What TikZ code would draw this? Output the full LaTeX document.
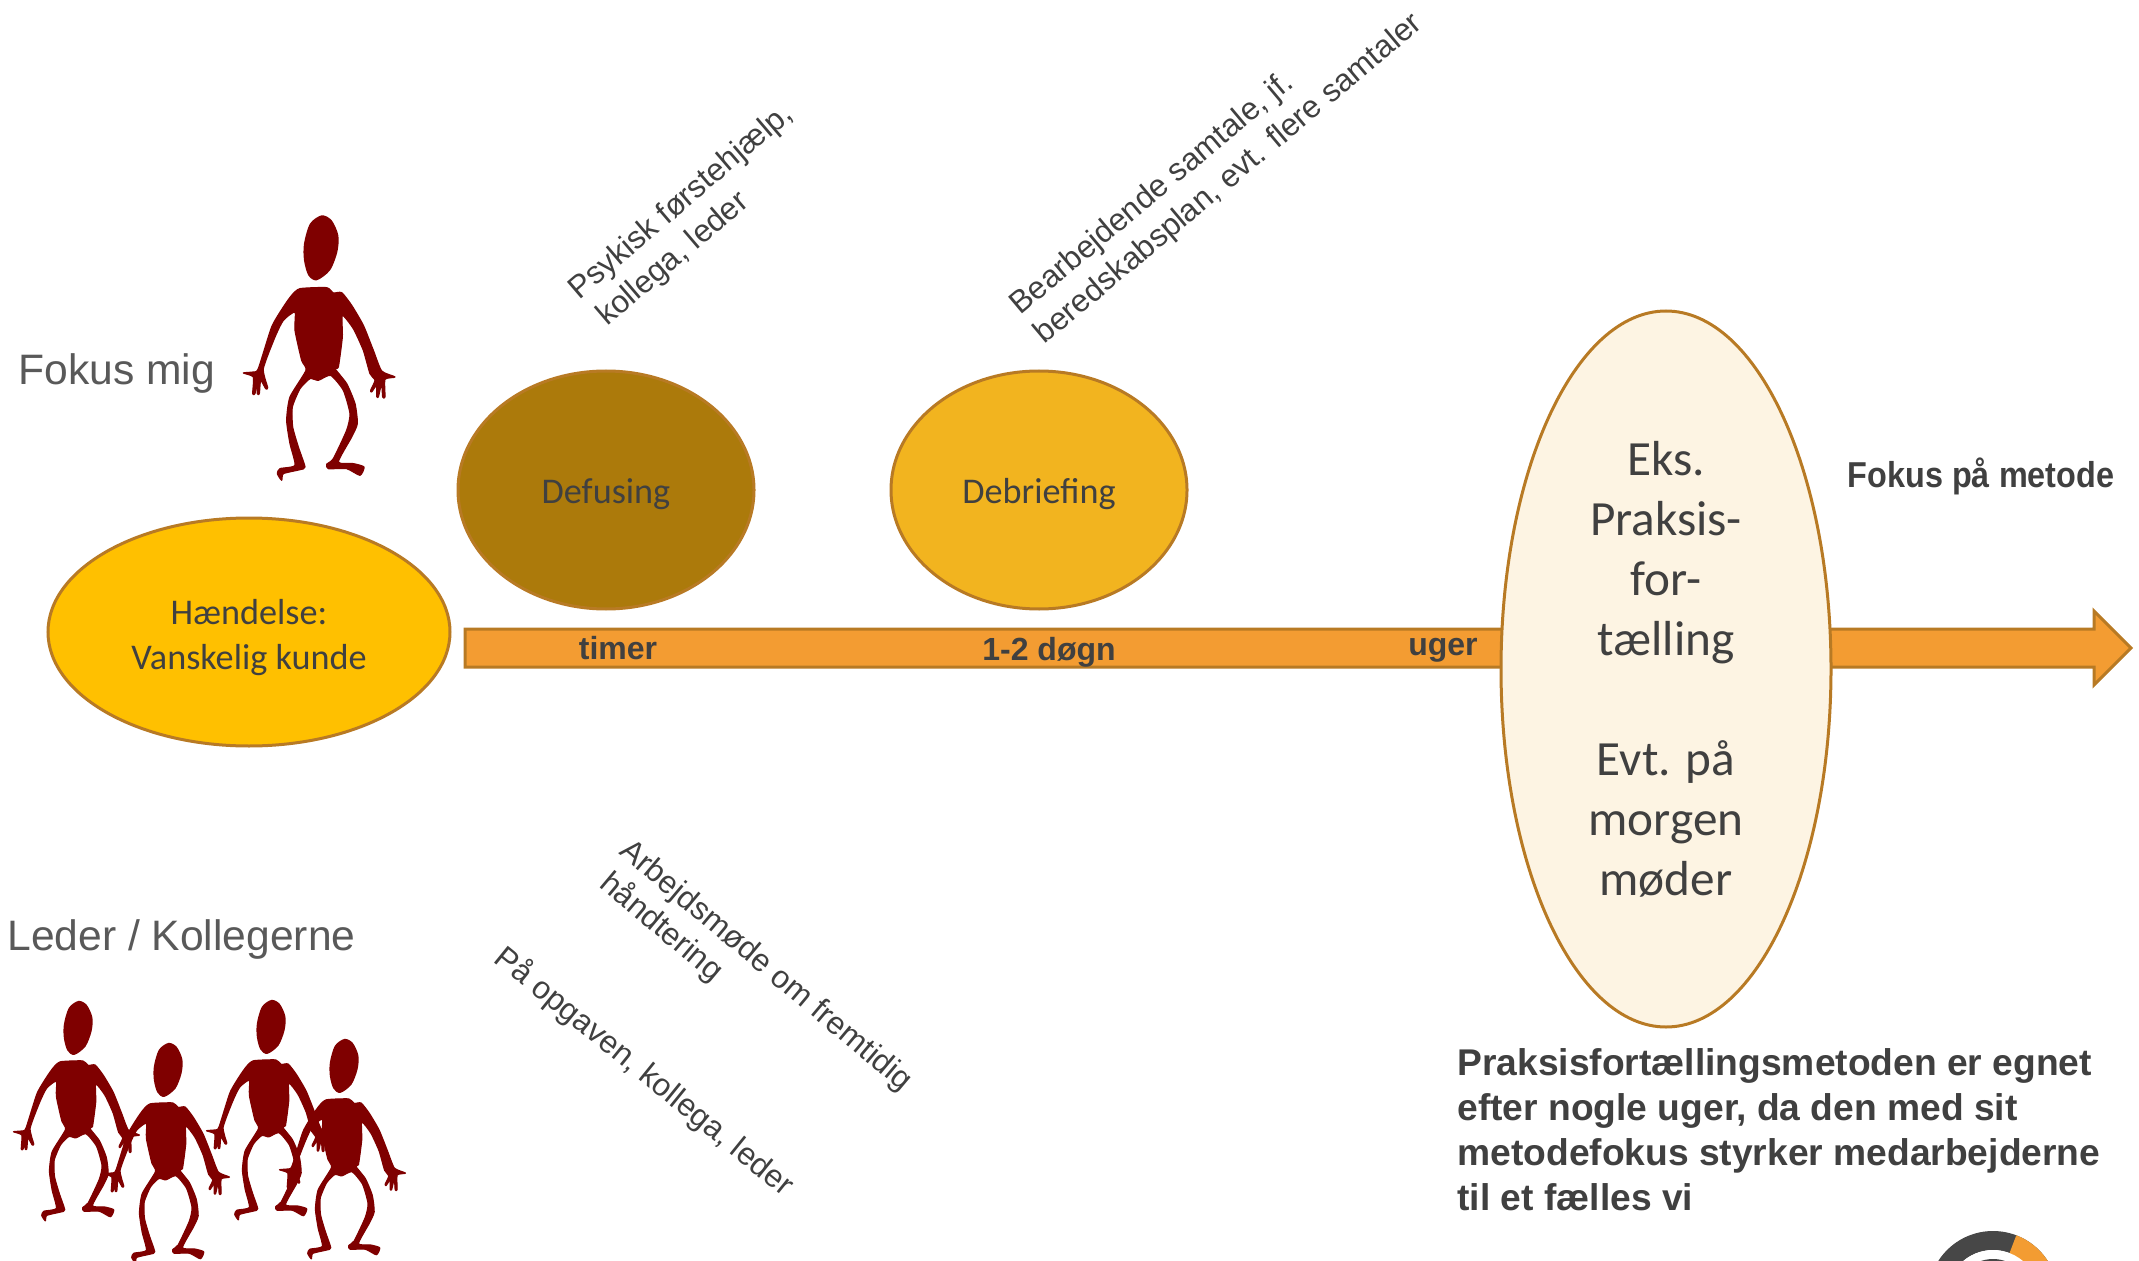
\documentclass[tikz,border=0pt]{standalone}
\usepackage{fontspec}
\setmainfont{Liberation Sans}
\newfontfamily\calfont{Carlito}
\usetikzlibrary{shapes.geometric}
\definecolor{txt}{HTML}{404040}
\definecolor{soft}{HTML}{595959}
\definecolor{edge}{HTML}{B87A24}
\definecolor{arrowfill}{HTML}{F39C32}
\definecolor{man}{HTML}{7F0000}
\definecolor{logodark}{HTML}{474747}
\newcommand{\personshape}[3]{%
  \begin{scope}[shift={(#1,#2)},scale=#3,shift={(-363,-203)}]
    \fill[man] plot[smooth cycle,tension=.5] coordinates {(365,105)(395,120)(415,165)(412,215)(390,270)(350,300)(325,285)(312,240)(312,190)(330,130)};
    \filldraw[man,line width=.6pt,line join=round] plot[smooth cycle,tension=.35] coordinates {(300,325)(380,322)(400,338)(425,337)(455,375)(490,435)(520,510)(545,572)(585,590)(555,597)(555,650)(548,650)(545,610)(535,650)(530,648)(530,615)(515,635)(512,630)(525,600)(510,580)(490,510)(460,445)(427,405)(427,470)(415,560)(405,565)(440,610)(465,670)(472,730)(455,770)(415,845)(460,850)(492,860)(480,885)(440,865)(385,865)(380,852)(400,835)(440,750)(450,700)(430,630)(392,585)(355,600)(330,595)(300,625)(277,680)(278,740)(295,800)(315,860)(300,868)(250,880)(245,900)(232,880)(240,865)(285,855)(270,790)(260,720)(270,650)(318,570)(305,540)(285,450)(285,395)(250,420)(225,470)(190,565)(203,622)(197,625)(182,600)(178,640)(172,640)(170,600)(165,640)(158,640)(160,590)(130,578)(160,575)(175,565)(215,440)(250,380)(275,345)};
  \end{scope}}
\tikzset{
  blob/.style={ellipse,draw=edge,line width=1.5pt,inner sep=0pt,text=txt,align=center,font=\calfont\fontsize{18.1}{22.5}\selectfont},
  slant/.style={text=txt,align=left,font=\fontsize{15.8}{19}\selectfont,inner sep=0pt},
  axis label/.style={text=txt,font=\bfseries\fontsize{16}{19}\selectfont,inner sep=0pt},
  side label/.style={text=soft,font=\fontsize{21.3}{25}\selectfont,inner sep=0pt,anchor=west}
}
\begin{document}
\begin{tikzpicture}[x=0.5pt,y=-0.5pt]
\useasboundingbox (0,0) rectangle (2139,1261);
% arrow
\draw[fill=arrowfill,draw=edge,line width=1.5pt,line join=miter] (465,629) -- (2094,629) -- (2094,611) -- (2131,648) -- (2094,685) -- (2094,667) -- (465,667) -- cycle;
% ellipses
\node[blob,fill={rgb,255:red,255;green,192;blue,0},minimum width=201pt,minimum height=114pt] (event) at (249,632) {\rule{0pt}{18pt}Hændelse:\\Vanskelig kunde};
\node[blob,fill={rgb,255:red,172;green,122;blue,11},minimum width=148pt,minimum height=119pt] (defuse) at (606,490) {\rule{0pt}{17pt}Defusing};
\node[blob,fill={rgb,255:red,242;green,180;blue,31},minimum width=148pt,minimum height=119pt] (debrief) at (1039,490) {\rule{0pt}{17pt}Debriefing};
\node[blob,fill={rgb,255:red,253;green,244;blue,227},minimum width=165pt,minimum height=358pt,font=\calfont\fontsize{24.6}{30}\selectfont] (story) at (1666,669) {Eks.\\Praksis-\\for-\\tælling\\[30pt]Evt. på\\morgen\\møder};
% axis labels
\node[axis label] (timer) at (618,648) {timer};
\node[axis label] (dogn) at (1049,652) {1-2 døgn};
\node[axis label] (uger) at (1443,650) {uger};
% side labels
\node[side label] (fokusmig) at (18,373) {Fokus mig};
\node[side label] (leder) at (7,939) {Leder / Kollegerne};
\node[text=txt,font=\bfseries\fontsize{18}{22}\selectfont,xscale=.9,inner sep=0pt] (metode) at (1981,476) {Fokus på metode};
% slanted
\node[slant,rotate=40.5] (psyk) at (694,217) {Psykisk førstehjælp,\\\hspace*{2pt}kollega, leder};
\node[slant,rotate=40] (bear) at (1217,165) {Bearbejdende samtale, jf.\\beredskabsplan, evt. flere samtaler};
\node[slant,rotate=-40] (arb) at (753,981) {Arbejdsmøde om fremtidig\\\hspace*{3pt}håndtering};
\node[slant,rotate=-39] (paa) at (644,1072) {På opgaven, kollega, leder};
% paragraph
\node[text=txt,align=left,anchor=north west,inner sep=0pt,font=\bfseries\fontsize{18.6}{22.5}\selectfont] (para) at (1457,1048) {Praksisfortællingsmetoden er egnet\\efter nogle uger, da den med sit\\metodefokus styrker medarbejderne\\til et fælles vi};
% people
\personshape{321}{248}{0.3333}
\personshape{78}{1028}{0.2767}
\personshape{271}{1027}{0.2767}
\personshape{168}{1070}{0.2767}
\personshape{344}{1066}{0.2767}
% logo
\begin{scope}
  \clip (0,0) rectangle (2139,1261);
  \fill[logodark,even odd rule] (1993,1296) circle[radius=65] (1993,1296) circle[radius=46];
  \fill[arrowfill] (1993,1296) -- ++(69:65 and -65) arc[start angle=-69,end angle=-20,radius=65] -- cycle;
  \fill[white] (1993,1296) circle[radius=46];
  \fill[logodark] (1993,1296) circle[radius=37];
  \fill[white] (1993,1296) circle[radius=26];
\end{scope}
\end{tikzpicture}
\end{document}
